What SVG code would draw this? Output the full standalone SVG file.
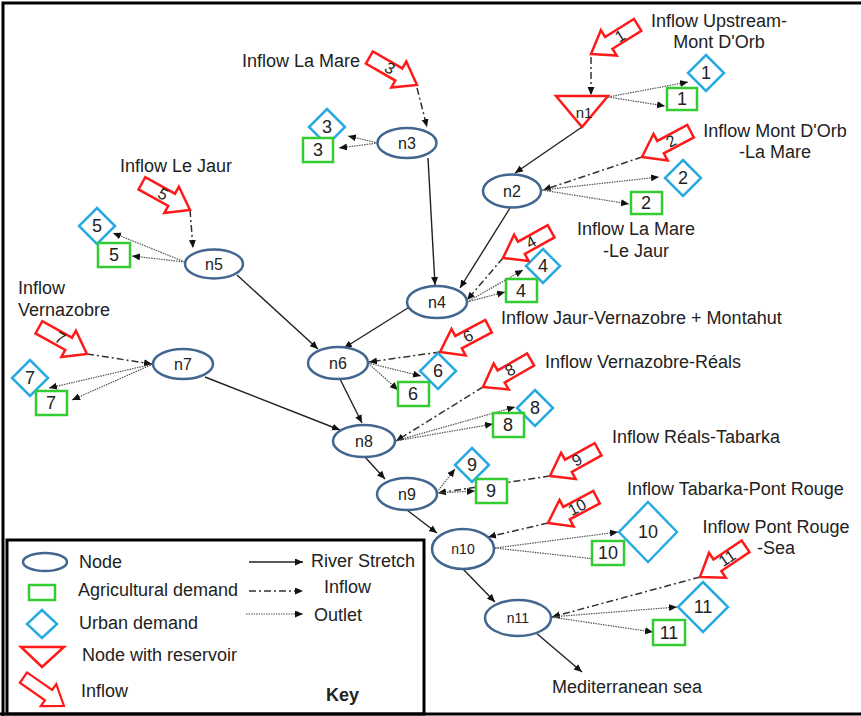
<svg xmlns="http://www.w3.org/2000/svg" width="861" height="716" viewBox="0 0 861 716">
<defs>
<style>
text{font-family:"Liberation Sans",Arial,sans-serif;fill:#222;font-size:18px}
.lbl{font-size:17.5px}
.nl{font-size:16px;text-anchor:middle}
.dn{font-size:18px;text-anchor:middle}
.an{font-size:16px;text-anchor:middle}
.node{fill:#fff;stroke:#41668f;stroke-width:2.5}
.ag{fill:#fff;stroke:#33cc33;stroke-width:2.5}
.urb{fill:#fff;stroke:#29abe2;stroke-width:2.5}
.red{fill:#fff;stroke:#ff1a1a;stroke-width:2.5;stroke-linejoin:miter}
.river{stroke:#222;stroke-width:1.4;fill:none;marker-end:url(#ah)}
.inflow{stroke:#333;stroke-width:1.5;fill:none;stroke-dasharray:7 3 2 3;marker-end:url(#ah)}
.outlet{stroke:#555;stroke-width:1.2;fill:none;stroke-dasharray:1.5 1;marker-end:url(#ah)}
</style>
<marker id="ah" markerUnits="userSpaceOnUse" markerWidth="9" markerHeight="8" refX="8" refY="3.5" orient="auto">
<path d="M0,0 L8,3.5 L0,7 z" fill="#111"/>
</marker>
<polygon id="blk" points="0,0 -21,-15 -21,-7 -55,-7 -55,7 -21,7 -21,15"/>
</defs>
<rect x="0" y="0" width="861" height="716" fill="#fff"/>
<path d="M3,716 V3 H861" fill="none" stroke="#000" stroke-width="3"/>
<path d="M0,714 H861" fill="none" stroke="#000" stroke-width="3"/>

<g id="connectors">
<!-- river stretches -->
<line class="river" x1="582" y1="127" x2="515" y2="173"/>
<line class="river" x1="510" y1="208" x2="460" y2="288"/>
<line class="river" x1="428" y1="158" x2="435" y2="285"/>
<line class="river" x1="411" y1="306" x2="344" y2="348"/>
<line class="river" x1="237" y1="275" x2="318" y2="349"/>
<line class="river" x1="340" y1="379" x2="362" y2="423"/>
<line class="river" x1="205" y1="377" x2="340" y2="430"/>
<line class="river" x1="365" y1="457" x2="385" y2="479"/>
<line class="river" x1="407" y1="510" x2="437" y2="533"/>
<line class="river" x1="463" y1="569" x2="495" y2="602"/>
<line class="river" x1="535" y1="632" x2="582" y2="672"/>
<!-- inflows -->
<line class="inflow" x1="591" y1="57" x2="591" y2="95"/>
<line class="inflow" x1="642" y1="157" x2="543" y2="190"/>
<line class="inflow" x1="417" y1="88" x2="427" y2="127"/>
<line class="inflow" x1="503" y1="258" x2="467" y2="300"/>
<line class="inflow" x1="190" y1="210" x2="193" y2="248"/>
<line class="inflow" x1="440" y1="352" x2="369" y2="362"/>
<line class="inflow" x1="87" y1="354" x2="152" y2="364"/>
<line class="inflow" x1="483" y1="387" x2="396" y2="441"/>
<line class="inflow" x1="550" y1="476" x2="438" y2="493"/>
<line class="inflow" x1="548" y1="523" x2="488" y2="537"/>
<line class="inflow" x1="700" y1="577" x2="552" y2="617"/>
<!-- outlets -->
<line class="outlet" x1="608" y1="97" x2="688" y2="82"/>
<line class="outlet" x1="608" y1="97" x2="665" y2="106"/>
<line class="outlet" x1="542" y1="190" x2="659" y2="177"/>
<line class="outlet" x1="542" y1="190" x2="629" y2="204"/>
<line class="outlet" x1="378" y1="143" x2="348" y2="136"/>
<line class="outlet" x1="378" y1="143" x2="339" y2="148"/>
<line class="outlet" x1="467" y1="302" x2="523" y2="270"/>
<line class="outlet" x1="467" y1="302" x2="505" y2="292"/>
<line class="outlet" x1="185" y1="262" x2="113" y2="233"/>
<line class="outlet" x1="185" y1="262" x2="132" y2="256"/>
<line class="outlet" x1="368" y1="363" x2="421" y2="376"/>
<line class="outlet" x1="368" y1="363" x2="398" y2="390"/>
<line class="outlet" x1="153" y1="364" x2="49" y2="388"/>
<line class="outlet" x1="153" y1="364" x2="72" y2="400"/>
<line class="outlet" x1="395" y1="441" x2="515" y2="407"/>
<line class="outlet" x1="395" y1="441" x2="493" y2="424"/>
<line class="outlet" x1="437" y1="492" x2="455" y2="469"/>
<line class="outlet" x1="437" y1="493" x2="475" y2="491"/>
<line class="outlet" x1="495" y1="548" x2="618" y2="532"/>
<line class="outlet" x1="495" y1="548" x2="604" y2="560"/>
<line class="outlet" x1="551" y1="617" x2="677" y2="607"/>
<line class="outlet" x1="551" y1="617" x2="653" y2="632"/>
</g>

<!-- river nodes -->
<g id="n1"><polygon class="red" points="556,96 608,96 582,127"/><text class="nl" x="584" y="118" style="font-size:15px">n1</text></g>
<g id="n2"><ellipse class="node" cx="512" cy="191" rx="29" ry="16.5"/><text class="nl" x="512" y="197">n2</text></g>
<g id="n3"><ellipse class="node" cx="407" cy="143" rx="29.5" ry="15"/><text class="nl" x="407" y="149">n3</text></g>
<g id="n4"><ellipse class="node" cx="437" cy="302" rx="30" ry="16"/><text class="nl" x="437" y="308">n4</text></g>
<g id="n5"><ellipse class="node" cx="214" cy="264" rx="29" ry="14.5"/><text class="nl" x="214" y="270">n5</text></g>
<g id="n6"><ellipse class="node" cx="338" cy="363" rx="30" ry="16"/><text class="nl" x="338" y="369">n6</text></g>
<g id="n7"><ellipse class="node" cx="183" cy="364" rx="30" ry="15"/><text class="nl" x="183" y="370">n7</text></g>
<g id="n8"><ellipse class="node" cx="364" cy="441" rx="31" ry="16"/><text class="nl" x="364" y="447">n8</text></g>
<g id="n9"><ellipse class="node" cx="407" cy="494" rx="30" ry="16"/><text class="nl" x="407" y="500">n9</text></g>
<g id="n10"><ellipse class="node" cx="463" cy="549" rx="31" ry="20"/><text class="nl" x="463" y="554" style="font-size:14px">n10</text></g>
<g id="n11"><ellipse class="node" cx="518" cy="618" rx="33" ry="18"/><text class="nl" x="518" y="623" style="font-size:14px">n11</text></g>

<!-- urban demands -->
<g id="u1"><polygon class="urb" points="706,55 724,73 706,91 688,73"/><text class="dn" x="706" y="79">1</text></g>
<g id="u2"><polygon class="urb" points="683,160 701,178 683,196 665,178"/><text class="dn" x="683" y="184">2</text></g>
<g id="u3"><polygon class="urb" points="327,109 345,127 327,145 309,127"/><text class="dn" x="327" y="133">3</text></g>
<g id="u4"><polygon class="urb" points="543,249 560,266 543,283 526,266"/><text class="dn" x="543" y="272">4</text></g>
<g id="u5"><polygon class="urb" points="97,208 115,226 97,244 79,226"/><text class="dn" x="97" y="232">5</text></g>
<g id="u6"><polygon class="urb" points="438,353 456,371 438,389 420,371"/><text class="dn" x="438" y="377">6</text></g>
<g id="u7"><polygon class="urb" points="30,360 48,378 30,396 12,378"/><text class="dn" x="30" y="384">7</text></g>
<g id="u8"><polygon class="urb" points="535,390 553,408 535,426 517,408"/><text class="dn" x="535" y="414">8</text></g>
<g id="u9"><polygon class="urb" points="472,448 489,465 472,482 455,465"/><text class="dn" x="472" y="471">9</text></g>
<g id="u10"><polygon class="urb" points="648,502 677,532 648,562 619,532"/><text class="dn" x="648" y="538">10</text></g>
<g id="u11"><polygon class="urb" points="703,582 728,607 703,632 678,607"/><text class="dn" x="703" y="613">11</text></g>

<!-- agricultural demands -->
<g id="a1"><rect class="ag" x="667" y="88" width="30" height="22"/><text class="dn" x="682" y="105">1</text></g>
<g id="a2"><rect class="ag" x="631" y="192" width="31" height="22"/><text class="dn" x="646" y="209">2</text></g>
<g id="a3"><rect class="ag" x="303" y="138" width="30" height="24"/><text class="dn" x="318" y="156">3</text></g>
<g id="a4"><rect class="ag" x="506" y="279" width="31" height="23"/><text class="dn" x="521" y="297">4</text></g>
<g id="a5"><rect class="ag" x="98" y="243" width="32" height="24"/><text class="dn" x="114" y="261">5</text></g>
<g id="a6"><rect class="ag" x="398" y="382" width="31" height="24"/><text class="dn" x="413" y="400">6</text></g>
<g id="a7"><rect class="ag" x="36" y="391" width="31" height="24"/><text class="dn" x="51" y="409">7</text></g>
<g id="a8"><rect class="ag" x="493" y="413" width="31" height="24"/><text class="dn" x="508" y="431">8</text></g>
<g id="a9"><rect class="ag" x="476" y="479" width="31" height="24"/><text class="dn" x="491" y="497">9</text></g>
<g id="a10"><rect class="ag" x="592" y="541" width="32" height="24"/><text class="dn" x="608" y="559">10</text></g>
<g id="a11"><rect class="ag" x="653" y="620" width="32" height="25"/><text class="dn" x="669" y="639">11</text></g>

<!-- inflow arrows -->
<g id="i1"><use href="#blk" class="red" transform="translate(591,54) rotate(148)"/><text class="an" transform="translate(620,36) rotate(-32)" dy=".35em">1</text></g>
<g id="i2"><use href="#blk" class="red" transform="translate(642,157) rotate(152)"/><text class="an" transform="translate(671,141) rotate(-28)" dy=".35em">2</text></g>
<g id="i3"><use href="#blk" class="red" transform="translate(417,85) rotate(30)"/><text class="an" transform="translate(390,68) rotate(30)" dy=".35em">3</text></g>
<g id="i4"><use href="#blk" class="red" transform="translate(503,258) rotate(151)"/><text class="an" transform="translate(531,242) rotate(-29)" dy=".35em">4</text></g>
<g id="i5"><use href="#blk" class="red" transform="translate(190,210) rotate(29)"/><text class="an" transform="translate(163,194) rotate(29)" dy=".35em">5</text></g>
<g id="i6"><use href="#blk" class="red" transform="translate(440,352) rotate(152)"/><text class="an" transform="translate(468,336) rotate(-28)" dy=".35em">6</text></g>
<g id="i7"><use href="#blk" class="red" transform="translate(87,354) rotate(29)"/><text class="an" transform="translate(60,338) rotate(29)" dy=".35em">7</text></g>
<g id="i8"><use href="#blk" class="red" transform="translate(483,387) rotate(150)"/><text class="an" transform="translate(510,370) rotate(-30)" dy=".35em">8</text></g>
<g id="i9"><use href="#blk" class="red" transform="translate(550,476) rotate(151)"/><text class="an" transform="translate(577,460) rotate(-29)" dy=".35em">9</text></g>
<g id="i10"><use href="#blk" class="red" transform="translate(548,523) rotate(152)"/><text class="an" transform="translate(577,507) rotate(-28)" dy=".35em">10</text></g>
<g id="i11"><use href="#blk" class="red" transform="translate(700,577) rotate(146)"/><text class="an" transform="translate(727,558) rotate(-34)" dy=".35em">11</text></g>

<!-- labels -->
<g id="labels">
<text x="719" y="27" text-anchor="middle">Inflow Upstream-</text>
<text x="719" y="48" text-anchor="middle">Mont D'Orb</text>
<text x="775" y="137" text-anchor="middle">Inflow Mont D'Orb</text>
<text x="775" y="158" text-anchor="middle">-La Mare</text>
<text x="636" y="235" text-anchor="middle">Inflow La Mare</text>
<text x="636" y="257" text-anchor="middle">-Le Jaur</text>
<text x="242" y="67">Inflow La Mare</text>
<text x="120" y="172">Inflow Le Jaur</text>
<text x="18" y="294">Inflow</text>
<text x="18" y="316">Vernazobre</text>
<text x="501" y="324">Inflow Jaur-Vernazobre + Montahut</text>
<text x="545" y="368">Inflow Vernazobre-Réals</text>
<text x="612" y="443">Inflow Réals-Tabarka</text>
<text x="627" y="495">Inflow Tabarka-Pont Rouge</text>
<text x="776" y="533" text-anchor="middle">Inflow Pont Rouge</text>
<text x="776" y="554" text-anchor="middle">-Sea</text>
<text x="552" y="693">Mediterranean sea</text>
</g>

<!-- legend -->
<g id="legend">
<rect x="7" y="540" width="417" height="174" fill="none" stroke="#000" stroke-width="3"/>
<ellipse class="node" cx="45" cy="562" rx="22" ry="9"/>
<text x="79" y="568">Node</text>
<rect class="ag" x="29" y="585" width="26" height="15"/>
<text x="78" y="596">Agricultural demand</text>
<polygon class="urb" points="42,610 57,624 42,638 27,624"/>
<text x="79" y="629">Urban demand</text>
<polygon class="red" points="21,647 64,647 42,667"/>
<text x="82" y="661">Node with reservoir</text>
<use href="#blk" class="red" transform="translate(64,706) rotate(35) scale(0.9)"/>
<text x="81" y="697">Inflow</text>
<text x="326" y="701" style="font-weight:bold">Key</text>
<line class="river" x1="249" y1="562" x2="303" y2="562"/>
<text x="311" y="567">River Stretch</text>
<line class="inflow" x1="249" y1="591" x2="303" y2="591"/>
<text x="324" y="593">Inflow</text>
<line class="outlet" x1="246" y1="614" x2="303" y2="614"/>
<text x="314" y="621">Outlet</text>
</g>
</svg>
